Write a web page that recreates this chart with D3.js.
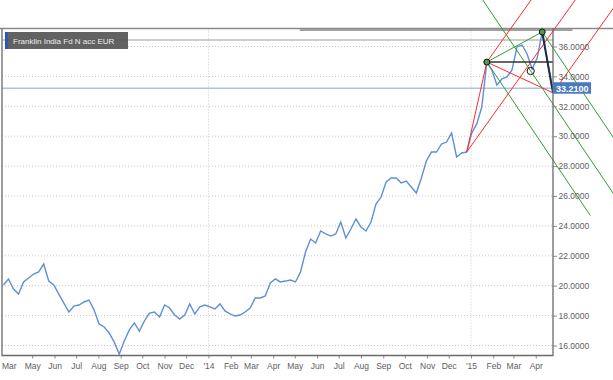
<!DOCTYPE html>
<html>
<head>
<meta charset="utf-8">
<script src="https://cdnjs.cloudflare.com/ajax/libs/d3/7.8.5/d3.min.js"></script>
<style>
  body { margin: 0; background: #fff; }
  text { font-family: "Liberation Sans", Arial, sans-serif; }
</style>
</head>
<body>
<div id="container"></div>
<script>
const TITLE = 'Franklin India Fd N acc EUR';

// weekly closes (Fridays) from 22 Mar 2013 to 24 Apr 2015
const firstWeek = new Date(2013, 2, 22);
const lastWeek = new Date(2015, 3, 24);
const prices = [
  20.05, 20.45, 19.78, 19.44, 20.25, 20.52, 20.78, 20.92, 21.45, 20.31,
  20.05, 19.44, 18.84, 18.24, 18.64, 18.71, 18.91, 19.04, 18.37, 17.44,
  17.24, 16.84, 16.23, 15.43, 16.30, 17.04, 17.51, 16.97, 17.64, 18.17,
  18.24, 17.91, 18.71, 18.51, 18.04, 17.77, 18.04, 18.78, 18.11, 18.58,
  18.71, 18.58, 18.44, 18.78, 18.31, 18.11, 17.97, 18.04, 18.24, 18.51,
  19.18, 19.18, 19.31, 20.18, 20.45, 20.25, 20.31, 20.38, 20.25, 20.92,
  22.25, 23.12, 22.86, 23.66, 23.46, 23.32, 23.46, 24.26, 23.19, 23.79,
  24.46, 23.93, 23.66, 24.26, 25.47, 25.93, 26.94, 27.20, 27.20, 26.87,
  27.00, 26.60, 26.20, 27.20, 28.34, 28.94, 28.94, 29.48, 29.61, 30.21,
  28.61, 28.88, 28.94, 30.21, 30.82, 31.95, 34.96, 34.43, 33.42, 33.83,
  33.96, 34.43, 35.97, 36.10, 35.50, 34.49, 35.23, 36.97, 35.10, 33.21
];

const yTicks = [16, 18, 20, 22, 24, 26, 28, 30, 32, 34, 36];
const monthTicks = d3.timeMonth.range(new Date(2013, 4, 1), new Date(2015, 4, 1));
const firstLabel = 'Mar';

// drawing tool anchors: indexes into the weekly series, plus two free points
const pivotIdx = 92;   // Dec low
const highIdx = 96;    // Jan high
const peakIdx = 107;   // Apr peak
const endPoint = { date: new Date(2015, 3, 25), value: 32.9 };
const midPoint = { date: new Date(2015, 2, 25), value: 34.36 };
const levelHigh = 37.1;
const levelUpper = 36.43;
const lastValue = prices[prices.length - 1];

const WIDTH = 613;
const HEIGHT = 380;

const svg = d3.select('#container').append('svg')
  .attr('width', WIDTH)
  .attr('height', HEIGHT);

const x = d3.scaleTime()
  .domain([new Date(2013, 2, 20), new Date(2015, 3, 25)])
  .range([2, 553]);
const y = d3.scaleLinear()
  .domain([15.331, 37.204])
  .range([355.5, 28.5]);

const dates = d3.timeFriday.range(firstWeek, d3.timeDay.offset(lastWeek, 1));
const series = prices.map((v, i) => ({ date: dates[i], value: v }));

// grid
svg.append('g')
  .selectAll('line')
  .data(yTicks)
  .join('line')
  .attr('x1', x.range()[0])
  .attr('x2', x.range()[1])
  .attr('y1', d => y(d))
  .attr('y2', d => y(d))
  .style('stroke', '#c8c8c8')
  .style('stroke-dasharray', '1,2');

svg.append('g')
  .selectAll('line')
  .data(monthTicks.filter(d => d.getMonth() === 0))
  .join('line')
  .attr('x1', d => x(d))
  .attr('x2', d => x(d))
  .attr('y1', y.range()[1])
  .attr('y2', y.range()[0])
  .style('stroke', '#c8c8c8')
  .style('stroke-dasharray', '1,2');

// top frame and horizontal levels
svg.append('line')
  .attr('x1', 0).attr('x2', WIDTH)
  .attr('y1', y.range()[1]).attr('y2', y.range()[1])
  .style('stroke', '#8a8a8a')
  .style('stroke-width', 1.5);
svg.append('line')
  .attr('x1', x(new Date(2014, 4, 8)))
  .attr('x2', x(new Date(2015, 4, 22)))
  .attr('y1', y(levelHigh)).attr('y2', y(levelHigh))
  .style('stroke', '#555')
  .style('stroke-width', 1);
svg.append('line')
  .attr('x1', x.range()[0]).attr('x2', x.range()[1])
  .attr('y1', y(levelUpper)).attr('y2', y(levelUpper))
  .style('stroke', '#bdbdbd')
  .style('stroke-width', 1.5);
svg.append('line')
  .attr('x1', x.range()[0]).attr('x2', x.range()[1])
  .attr('y1', y(lastValue)).attr('y2', y(lastValue))
  .style('stroke', '#a9c3e6')
  .style('stroke-width', 1.5);

// price line
const line = d3.line()
  .x(d => x(d.date))
  .y(d => y(d.value));
svg.append('path')
  .datum(series)
  .attr('d', line)
  .style('fill', 'none')
  .style('stroke', '#5f8fd6')
  .style('stroke-width', 1.4);

// drawing tools
const pt = d => [x(d.date), y(d.value)];
const A = pt(series[pivotIdx]);
const B = pt(series[highIdx]);
const C = pt(series[peakIdx]);
const D = pt(endPoint);
const E = pt(midPoint);

const add = (p, v, t) => [p[0] + v[0] * t, p[1] + v[1] * t];
const seg = (p, q, color, w) => svg.append('line')
  .attr('x1', p[0]).attr('y1', p[1])
  .attr('x2', q[0]).attr('y2', q[1])
  .style('stroke', color)
  .style('stroke-width', w || 1);

// red pitchfork: pivot A, prongs at B and D
const mBD = [(B[0] + D[0]) / 2, (B[1] + D[1]) / 2];
const redDir = [mBD[0] - A[0], mBD[1] - A[1]];
const RED = '#ff2a2a';
seg(A, add(A, redDir, 4), RED);
seg(B, add(B, redDir, 4), RED);
seg(D, add(D, redDir, 4), RED);
seg(A, B, RED);
seg(B, D, RED);

// green pitchfork: prongs at B and C, median through E
const mBC = [(B[0] + C[0]) / 2, (B[1] + C[1]) / 2];
const greenDir = [E[0] - mBC[0], E[1] - mBC[1]];
const GREEN = '#2f9e2f';
seg(add(mBC, greenDir, -4), add(mBC, greenDir, 10), GREEN);
seg(B, add(B, greenDir, 6.4), GREEN);
seg(C, add(C, greenDir, 6.4), GREEN);
seg(B, C, GREEN);

// black lines
seg(B, [x.range()[1], B[1]], '#333', 1.5);
seg(C, D, '#1f2a44', 2);

svg.append('g')
  .selectAll('circle')
  .data([B, C])
  .join('circle')
  .attr('cx', d => d[0])
  .attr('cy', d => d[1])
  .attr('r', 3)
  .style('fill', '#4e9a4e')
  .style('stroke', '#111')
  .style('stroke-width', 1);
svg.append('circle')
  .attr('cx', E[0]).attr('cy', E[1])
  .attr('r', 3.6)
  .style('fill', 'none')
  .style('stroke', '#111')
  .style('stroke-width', 1);

// axes
const xAxis = d3.axisBottom(x)
  .tickValues(monthTicks)
  .tickSize(3)
  .tickPadding(4)
  .tickFormat(d => d.getMonth() === 0 ? "'" + String(d.getFullYear()).slice(2) : d3.timeFormat('%b')(d));
const gx = svg.append('g')
  .attr('transform', `translate(0,${y.range()[0]})`)
  .call(xAxis);

const yAxis = d3.axisRight(y)
  .tickValues(yTicks)
  .tickSize(4)
  .tickPadding(1.5)
  .tickFormat(d3.format('.4f'));
const gy = svg.append('g')
  .attr('transform', `translate(${x.range()[1]},0)`)
  .call(yAxis);

[gx, gy].forEach(g => {
  g.select('.domain').remove();
  g.selectAll('line').style('stroke', '#8c8c8c');
  g.selectAll('text')
    .style('font-size', '8.5px')
    .style('fill', '#5e5e5e');
});

svg.append('text')
  .attr('x', x.range()[0])
  .attr('y', y.range()[0] + 13)
  .style('font-size', '8.5px')
  .style('fill', '#5e5e5e')
  .text(firstLabel);

// frame
svg.append('path')
  .attr('d', `M${x.range()[0]},${y.range()[1]} V${y.range()[0]} H${x.range()[1]} V${y.range()[1]}`)
  .style('fill', 'none')
  .style('stroke', '#6a6a6a')
  .style('stroke-width', 1.3);

// last value tag
const tag = svg.append('g')
  .attr('transform', `translate(${x.range()[1]},${y(lastValue)})`);
tag.append('rect')
  .attr('x', 0).attr('y', -6)
  .attr('width', 38).attr('height', 11.5)
  .style('fill', '#4a7bbf');
tag.append('text')
  .attr('x', 3).attr('y', 3.5)
  .style('font-size', '9px')
  .style('font-weight', 'bold')
  .style('fill', '#fff')
  .text(d3.format('.4f')(lastValue));

// title box
const title = svg.append('g').attr('transform', 'translate(5,32)');
title.append('rect')
  .attr('width', 123).attr('height', 17)
  .style('fill', '#555')
  .style('opacity', 0.92);
title.append('rect')
  .attr('width', 2.5).attr('height', 17)
  .style('fill', '#1f55cc');
title.append('text')
  .attr('x', 8).attr('y', 11.8)
  .style('font-size', '8px')
  .style('fill', '#eeeeee')
  .text(TITLE);
</script>
</body>
</html>
